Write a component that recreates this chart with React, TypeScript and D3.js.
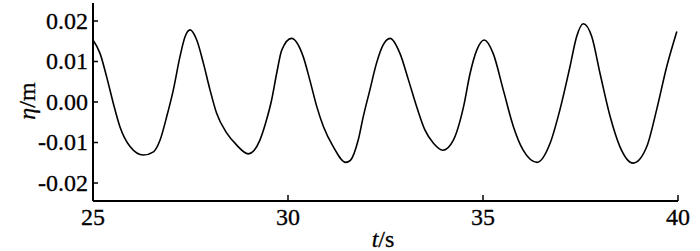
import * as d3 from 'd3';

// surface elevation record
const time = [
  25.0, 25.18, 25.35, 25.52, 25.69, 25.95, 26.29, 26.55, 26.72, 26.89, 27.06, 27.23, 27.36,
  27.49, 27.66, 27.83, 28.0, 28.17, 28.43, 28.68, 28.98, 29.28, 29.45, 29.58, 29.71, 29.84, 30.09,
  30.39, 30.56, 30.74, 30.91, 31.16, 31.48, 31.6, 31.8, 31.93, 32.1, 32.27, 32.44, 32.62,
  32.87, 33.09, 33.3, 33.51, 33.73, 33.97, 34.24, 34.5, 34.67, 34.84, 35.03, 35.26, 35.52,
  35.78, 36.03, 36.39, 36.72, 36.97, 37.23, 37.4, 37.57, 37.79, 38.0, 38.26, 38.51, 38.85,
  39.2, 39.45, 39.71, 39.97,
];
const eta = [
  0.0153, 0.012, 0.0062, -0.0003, -0.0061, -0.011, -0.0131, -0.0123, -0.0094, -0.0036, 0.003, 0.0112, 0.0161,
  0.0178, 0.0153, 0.0096, 0.003, -0.0028, -0.0077, -0.0106, -0.0128, -0.0094, -0.0044, 0.0005, 0.0071, 0.0128, 0.0157,
  0.0112, 0.0054, -0.0012, -0.0061, -0.011, -0.0149, -0.0144, -0.0094, -0.0036, 0.003, 0.0096, 0.0141, 0.0157,
  0.012, 0.0054, -0.0012, -0.0069, -0.0102, -0.0119, -0.0094, -0.0012, 0.0071, 0.0128, 0.0153, 0.012, 0.003,
  -0.0061, -0.0119, -0.0149, -0.0102, -0.002, 0.0087, 0.0161, 0.0193, 0.0161, 0.0071, -0.0036, -0.011, -0.0151,
  -0.011, -0.002, 0.0087, 0.0174,
];
const xTicks = [25, 30, 35, 40];
const yTicks = [0.02, 0.01, 0, -0.01, -0.02];

const W = 700;
const H = 251;
const FONT = 'Liberation Serif';

// hyphen minus like the original, not d3's unicode minus
const fmt = (v: number) => d3.format('.2f')(v).replace('\u2212', '-');

export default function App() {
  const x = d3.scaleLinear().domain([25, 40]).range([93, 678]);
  const y = d3.scaleLinear().domain([-0.02444, 0.02444]).range([201, 3]);

  const line = d3.line<number>()
    .x((_, i) => x(time[i]))
    .y(d => y(d))
    .curve(d3.curveMonotoneX);

  const x0 = x.range()[0];
  const y0 = y.range()[0];

  return (
    <svg width={W} height={H} style={{ position: 'absolute', left: 0, top: 0, background: '#fff' }}>
      <path d={line(eta) ?? ''} fill="none" stroke="#000" strokeWidth={1.6} />

      {/* axes */}
      <line x1={x0} x2={x0} y1={y.range()[1]} y2={y0} stroke="#000" strokeWidth={2} />
      <line x1={x0} x2={x.range()[1]} y1={y0} y2={y0} stroke="#000" strokeWidth={2} />

      <g fontFamily={FONT} fontSize={24} fill="#000" stroke="#000" strokeWidth={0.3}>
        {yTicks.map(t => (
          <g key={t}>
            <line x1={x0} x2={x0 + 5} y1={y(t)} y2={y(t)} strokeWidth={1.5} />
            <text x={x0 - 5} y={y(t)} dy="0.33em" textAnchor="end">{fmt(t)}</text>
          </g>
        ))}
        {xTicks.map(t => (
          <g key={t}>
            <line x1={x(t)} x2={x(t)} y1={y0} y2={y0 - 6} strokeWidth={1.5} />
            <text x={x(t)} y={225} textAnchor="middle">{t}</text>
          </g>
        ))}

        <text x={383} y={247} textAnchor="middle">
          <tspan fontStyle="italic">t</tspan>/s
        </text>
        <text transform="translate(35,101) rotate(-90)" textAnchor="middle">
          <tspan fontStyle="italic">η</tspan>/m
        </text>
      </g>
    </svg>
  );
}
